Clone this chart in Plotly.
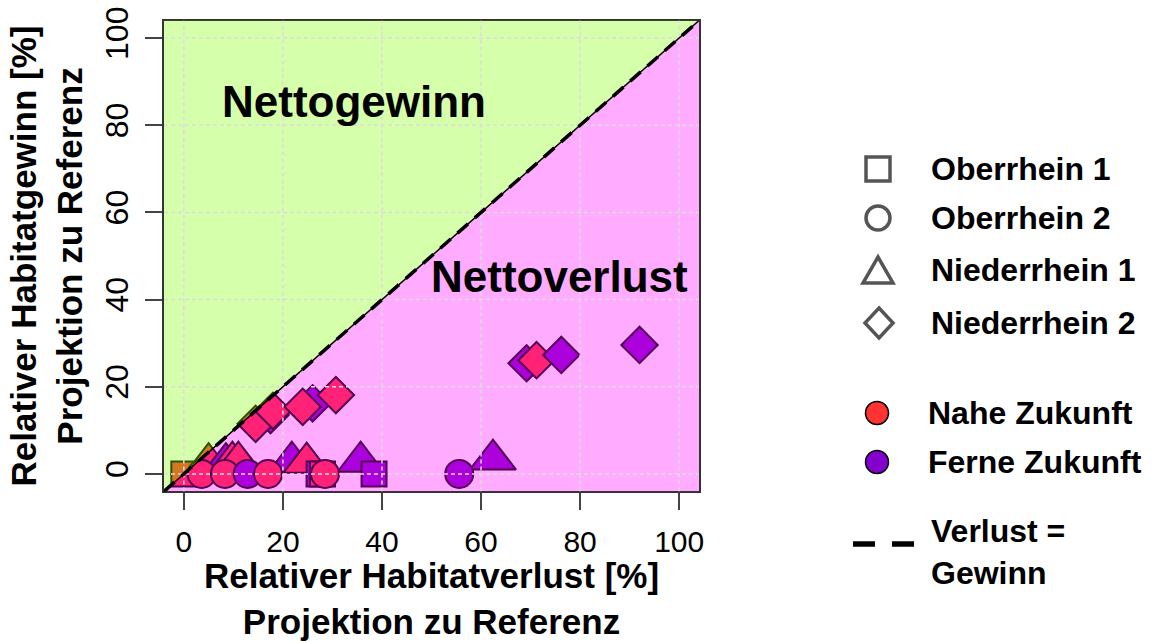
import plotly.graph_objects as go

W, H = 1153, 641

# ---------------- data: relative habitat loss (x) vs. gain (y), in % ----------------
ober1_verlust = [0.0, 27.3, 28.0, 38.4]
ober1_gewinn = [0.0, 0.0, 0.0, 0.0]
ober1_zeit = ["nah", "fern", "nah", "fern"]

ober2_verlust = [3.6, 8.3, 12.9, 17.0, 28.5, 55.6]
ober2_gewinn = [0.0, 0.0, 0.0, 0.0, 0.0, 0.0]
ober2_zeit = ["nah", "nah", "fern", "nah", "nah", "fern"]

nieder1_verlust = [5.0, 8.5, 9.8, 11.0, 21.8, 24.8, 35.7, 62.4]
nieder1_gewinn = [2.5, 2.5, 2.8, 2.8, 2.8, 2.6, 2.8, 3.3]
nieder1_zeit = ["nah", "fern", "nah", "nah", "fern", "nah", "fern", "fern"]

nieder2_verlust = [17.5, 14.5, 18.0, 26.0, 24.0, 30.7, 69.2, 71.2, 76.2, 92.0]
nieder2_gewinn = [13.5, 11.5, 14.5, 16.2, 15.4, 18.1, 25.4, 26.1, 27.3, 29.6]
nieder2_zeit = ["fern", "nah", "nah", "fern", "nah", "nah", "fern", "nah", "fern", "fern"]

region_names = ["Oberrhein 1", "Oberrhein 2", "Niederrhein 1", "Niederrhein 2"]
zeit_names = ["Nahe Zukunft", "Ferne Zukunft"]
linie_name = "Verlust =<br>Gewinn"

axis_ticks = [0, 20, 40, 60, 80, 100]
axis_range = [-4, 104]

# ---------------- styling ----------------
FONT = "Liberation Sans, Arial, Helvetica, sans-serif"
zeit_colors = {"nah": "#ff3333", "fern": "#8400cc"}
legend_gray = "#555555"

regions = [
    # drawing order: triangles, squares, circles, diamonds
    ("Niederrhein 1", nieder1_verlust, nieder1_gewinn, nieder1_zeit, "triangle-up", 40),
    ("Oberrhein 1", ober1_verlust, ober1_gewinn, ober1_zeit, "square", 25),
    ("Oberrhein 2", ober2_verlust, ober2_gewinn, ober2_zeit, "circle", 28),
    ("Niederrhein 2", nieder2_verlust, nieder2_gewinn, nieder2_zeit, "diamond", 28),
]

fig = go.Figure()
for name, xs, ys, zeit, symbol, size in regions:
    fig.add_trace(go.Scatter(
        x=xs, y=ys, mode="markers", name=name, showlegend=False,
        marker=dict(symbol=symbol, size=size,
                    color=[zeit_colors[z] for z in zeit],
                    line=dict(color="black", width=2)),
    ))

lo, hi = axis_range
shapes = []
# translucent regions laid over the points: gain above the diagonal, loss below
shapes.append(dict(type="path", xref="x", yref="y", layer="above",
                   path=f"M {lo},{lo} L {lo},{hi} L {hi},{hi} Z",
                   fillcolor="rgba(127,255,0,0.33)", line=dict(width=0)))
shapes.append(dict(type="path", xref="x", yref="y", layer="above",
                   path=f"M {lo},{lo} L {hi},{lo} L {hi},{hi} Z",
                   fillcolor="rgba(255,0,255,0.33)", line=dict(width=0)))
# dotted grid on top
for v in axis_ticks:
    shapes.append(dict(type="line", xref="x", yref="y", layer="above",
                       x0=v, x1=v, y0=lo, y1=hi,
                       line=dict(color="#dcdcdc", width=1.5, dash="4px,3px")))
    shapes.append(dict(type="line", xref="x", yref="y", layer="above",
                       x0=lo, x1=hi, y0=v, y1=v,
                       line=dict(color="#dcdcdc", width=1.5, dash="4px,3px")))
# 1:1 line (loss = gain)
shapes.append(dict(type="line", xref="x", yref="y", layer="above",
                   x0=lo, y0=lo, x1=hi, y1=hi, line=dict(color="black", width=1.5)))
shapes.append(dict(type="line", xref="x", yref="y", layer="above",
                   x0=lo, y0=lo, x1=hi, y1=hi,
                   line=dict(color="black", width=3.5, dash="14px,9px")))


# ---------------- hand-built legend in the right margin ----------------
def px(x):
    return x / W


def py(y):
    return 1 - y / H


def pt(x, y):
    return f"{px(x):.5f},{py(y):.5f}"


sym_x = 878
text_x = 929
row_y = [169, 218, 270, 323]
zeit_y = [413, 462]
line_y = 544
half = 12

annotations = []
# region symbols (open, gray)
sq_y, ci_y, tr_y, di_y = row_y
shapes.append(dict(type="rect", xref="paper", yref="paper",
                   x0=px(sym_x - half), x1=px(sym_x + half),
                   y0=py(sq_y + half), y1=py(sq_y - half),
                   line=dict(color=legend_gray, width=3.5)))
shapes.append(dict(type="circle", xref="paper", yref="paper",
                   x0=px(sym_x - half), x1=px(sym_x + half),
                   y0=py(ci_y + half), y1=py(ci_y - half),
                   line=dict(color=legend_gray, width=3.5)))
shapes.append(dict(type="path", xref="paper", yref="paper",
                   path=f"M {pt(sym_x - 15, tr_y + 13)} L {pt(sym_x + 15, tr_y + 13)} "
                        f"L {pt(sym_x, tr_y - 13)} Z",
                   line=dict(color=legend_gray, width=3.5)))
shapes.append(dict(type="path", xref="paper", yref="paper",
                   path=f"M {pt(sym_x + 1, di_y - 15)} L {pt(sym_x + 15, di_y)} "
                        f"L {pt(sym_x + 1, di_y + 15)} L {pt(sym_x - 13, di_y)} Z",
                   line=dict(color=legend_gray, width=3.5)))
for label, y in zip(region_names, row_y):
    annotations.append(dict(xref="paper", yref="paper", x=px(text_x), y=py(y),
                            xanchor="left", yanchor="middle", showarrow=False,
                            text=label,
                            font=dict(family=FONT, size=32, weight="bold", color="black")))

# time horizon swatches
for label, key, y in zip(zeit_names, ["nah", "fern"], zeit_y):
    shapes.append(dict(type="circle", xref="paper", yref="paper",
                       x0=px(sym_x - 1 - 11.5), x1=px(sym_x - 1 + 11.5),
                       y0=py(y + 11.5), y1=py(y - 11.5),
                       fillcolor=zeit_colors[key], line=dict(color="black", width=1.5)))
    annotations.append(dict(xref="paper", yref="paper", x=px(text_x - 3), y=py(y),
                            xanchor="left", yanchor="middle", showarrow=False,
                            text=label,
                            font=dict(family=FONT, size=32, weight="bold", color="black")))

# dashed 1:1 line swatch
shapes.append(dict(type="line", xref="paper", yref="paper",
                   x0=px(853), x1=px(914), y0=py(line_y), y1=py(line_y),
                   line=dict(color="black", width=5.5, dash="22px,17px")))
annotations.append(dict(xref="paper", yref="paper", x=px(text_x), y=py(552),
                        xanchor="left", yanchor="middle", showarrow=False, align="left",
                        text=linie_name,
                        font=dict(family=FONT, size=32, weight="bold", color="black")))

# region labels inside the plot
annotations.append(dict(xref="x", yref="y", x=34.4, y=85.5, showarrow=False,
                        text="Nettogewinn",
                        font=dict(family=FONT, size=44, weight="bold", color="black")))
annotations.append(dict(xref="x", yref="y", x=75.8, y=45.2, showarrow=False,
                        text="Nettoverlust",
                        font=dict(family=FONT, size=44, weight="bold", color="black")))

axis_common = dict(
    range=axis_range, tickmode="array", tickvals=axis_ticks,
    ticks="outside", ticklen=17, tickwidth=2, tickcolor="#444",
    showline=True, linecolor="#333", linewidth=2, mirror=True,
    showgrid=False, zeroline=False, automargin=False,
)

fig.update_layout(
    width=W, height=H,
    margin=dict(l=0, r=0, t=0, b=0),
    paper_bgcolor="white", plot_bgcolor="white",
    font=dict(family=FONT, color="black"),
    xaxis=dict(
        domain=[164 / W, 699 / W],
        tickfont=dict(family=FONT, size=30, color="black"),
        ticklabelstandoff=6,
        title=dict(text="Relativer Habitatverlust [%]<br>Projektion zu Referenz",
                   font=dict(family=FONT, size=35, weight="bold", color="black"),
                   standoff=3),
        **axis_common,
    ),
    yaxis=dict(
        domain=[1 - 491.4 / H, 1 - 20.6 / H],
        tickangle=-90,
        tickfont=dict(family=FONT, size=32, color="black"),
        ticklabelstandoff=4,
        title=dict(text="Relativer Habitatgewinn [%]<br>Projektion zu Referenz",
                   font=dict(family=FONT, size=35, weight="bold", color="black"),
                   standoff=6),
        **axis_common,
    ),
    shapes=shapes,
    annotations=annotations,
    showlegend=False,
)

fig.write_html("out.html")
